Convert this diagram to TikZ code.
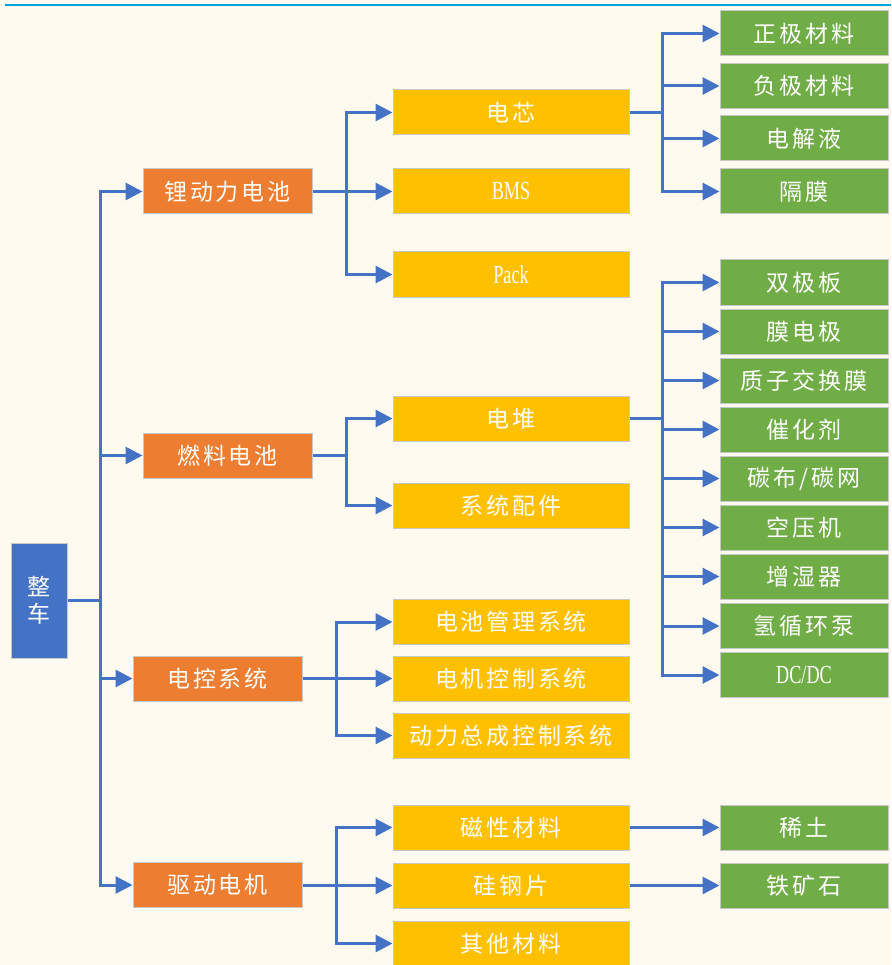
\documentclass[tikz,border=0pt]{standalone}
\usepackage{fontspec}
\setmainfont{Liberation Serif}
\newfontfamily\cjk[LetterSpace=12]{Noto Sans CJK SC}
\newfontfamily\latin[FakeStretch=0.7]{Liberation Serif}
\usetikzlibrary{arrows.meta}
\definecolor{bgcream}{HTML}{FFFAF0}
\definecolor{topline}{HTML}{00A0E0}
\definecolor{rootblue}{HTML}{4472C4}
\definecolor{lineblue}{HTML}{4472C4}
\definecolor{orangebox}{HTML}{ED7D31}
\definecolor{yellowbox}{HTML}{FFC000}
\definecolor{greenbox}{HTML}{70AD47}
\definecolor{boxedge}{HTML}{C8C8C8}
\newcommand{\lat}[1]{{\latin\fontsize{26}{30}\selectfont #1}}

\begin{document}
\begin{tikzpicture}[x=1pt,y=-1pt,>={Triangle[length=17pt,width=17pt]},
  box/.style={rectangle,draw=boxedge,line width=1pt,text=white,inner sep=0pt,minimum height=45pt,font=\cjk\fontsize{23}{27}\selectfont},
  root node/.style={box,fill=rootblue,minimum width=56pt,minimum height=115pt,align=center},
  main node/.style={box,fill=orangebox,minimum width=169pt},
  sub node/.style={box,fill=yellowbox,minimum width=236pt},
  leaf node/.style={box,fill=greenbox,minimum width=168pt},
  link/.style={draw=lineblue,line width=3pt}]

  % page
  \fill[bgcream] (0,0) rectangle (891,965);
  \useasboundingbox (0,0) rectangle (891,965);
  \draw[topline,line width=2.5pt] (5,5) -- (891,5);

  % root and first level
  \node[root node] (car) at (39,600.5) {整\\车};
  \node[main node] (battery) at (227.5,191.5) {锂动力电池};
  \node[main node] (fuelcell) at (227.5,455.5) {燃料电池};
  \node[main node] (ectrl) at (217.5,678.5) {电控系统};
  \node[main node] (motor) at (217.5,885) {驱动电机};

  % second level
  \node[sub node] (cell) at (511,112.5) {电芯};
  \node[sub node] (bms) at (511,191.5) {\lat{BMS}};
  \node[sub node] (pack) at (511,274.5) {\lat{Pack}};
  \node[sub node] (stack) at (511,418.5) {电堆};
  \node[sub node] (parts) at (511,505.5) {系统配件};
  \node[sub node] (bmsys) at (511,622) {电池管理系统};
  \node[sub node] (mcu) at (511,678.5) {电机控制系统};
  \node[sub node] (pcu) at (511,735.5) {动力总成控制系统};
  \node[sub node] (magnet) at (511,827.5) {磁性材料};
  \node[sub node] (steel) at (511,885.5) {硅钢片};
  \node[sub node] (other) at (511,943.5) {其他材料};

  % third level
  \node[leaf node] (cathode) at (804,33.5) {正极材料};
  \node[leaf node] (anode) at (804,86) {负极材料};
  \node[leaf node] (electrolyte) at (804,138.5) {电解液};
  \node[leaf node] (separator) at (804,191.5) {隔膜};
  \node[leaf node] (bipolar) at (804,282.5) {双极板};
  \node[leaf node] (mea) at (804,331.5) {膜电极};
  \node[leaf node] (pem) at (804,380.5) {质子交换膜};
  \node[leaf node] (catalyst) at (804,429.5) {催化剂};
  \node[leaf node] (carbon) at (804,478.5) {碳布/碳网};
  \node[leaf node] (compressor) at (804,527.5) {空压机};
  \node[leaf node] (humidifier) at (804,576.5) {增湿器};
  \node[leaf node] (pump) at (804,626) {氢循环泵};
  \node[leaf node] (dcdc) at (804,675) {\lat{DC/DC}};
  \node[leaf node] (rareearth) at (804,827.5) {稀土};
  \node[leaf node] (ironore) at (804,885.5) {铁矿石};

  % junctions
  \coordinate (j0) at (100,600.5);
  \coordinate (j1) at (346,191.5);
  \coordinate (j2) at (346,455.5);
  \coordinate (j3) at (336,678.5);
  \coordinate (j4) at (336,885);
  \coordinate (j5) at (662,112.5);
  \coordinate (j6) at (662,418.5);

  \draw[link] (car.east) -- (j0);
  \draw[link,->] (j0) |- (battery.west);
  \draw[link,->] (j0) |- (fuelcell.west);
  \draw[link,->] (j0) |- (ectrl.west);
  \draw[link,->] (j0) |- (motor.west);

  \draw[link] (battery.east) -- (j1);
  \draw[link,->] (j1) |- (cell.west);
  \draw[link,->] (j1) -- (bms.west);
  \draw[link,->] (j1) |- (pack.west);

  \draw[link] (fuelcell.east) -- (j2);
  \draw[link,->] (j2) |- (stack.west);
  \draw[link,->] (j2) |- (parts.west);

  \draw[link] (ectrl.east) -- (j3);
  \draw[link,->] (j3) |- (bmsys.west);
  \draw[link,->] (j3) -- (mcu.west);
  \draw[link,->] (j3) |- (pcu.west);

  \draw[link] (motor.east) -- (j4);
  \draw[link,->] (j4) |- (magnet.west);
  \draw[link,->] (j4) |- (steel.west);
  \draw[link,->] (j4) |- (other.west);

  \draw[link] (cell.east) -- (j5);
  \draw[link,->] (j5) |- (cathode.west);
  \draw[link,->] (j5) |- (anode.west);
  \draw[link,->] (j5) |- (electrolyte.west);
  \draw[link,->] (j5) |- (separator.west);

  \draw[link] (stack.east) -- (j6);
  \draw[link,->] (j6) |- (bipolar.west);
  \draw[link,->] (j6) |- (mea.west);
  \draw[link,->] (j6) |- (pem.west);
  \draw[link,->] (j6) |- (catalyst.west);
  \draw[link,->] (j6) |- (carbon.west);
  \draw[link,->] (j6) |- (compressor.west);
  \draw[link,->] (j6) |- (humidifier.west);
  \draw[link,->] (j6) |- (pump.west);
  \draw[link,->] (j6) |- (dcdc.west);

  \draw[link,->] (magnet.east) -- (rareearth.west);
  \draw[link,->] (steel.east) -- (ironore.west);

\end{tikzpicture}
\end{document}
